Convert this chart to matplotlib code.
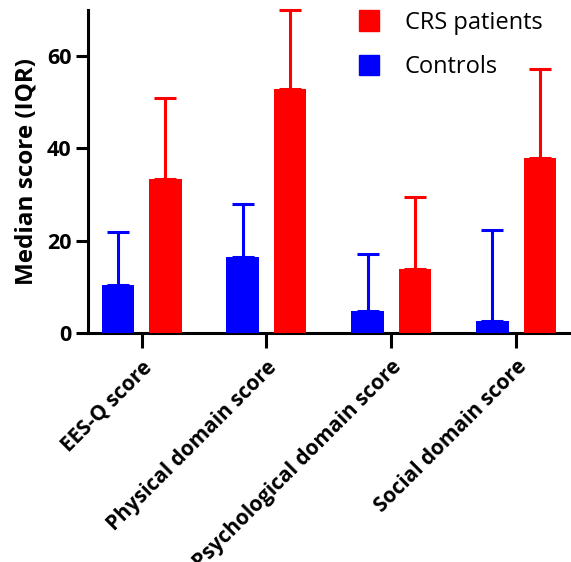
import matplotlib
matplotlib.use("Agg")
from matplotlib import pyplot as plt
from matplotlib.patches import Patch
import numpy as np

categories = ["EES-Q score", "Physical domain score", "Psychological domain score", "Social domain score"]
controls = [10.4, 16.4, 4.8, 2.7]
controls_upper = [21.8, 28.0, 17.2, 22.4]
crs = [33.4, 53.0, 13.8, 38.0]
crs_upper = [51.0, 70.0, 29.5, 57.3]
yticks = [0, 20, 40, 60]

plt.rcParams['font.family'] = ['Open Sans', 'DejaVu Sans']

fig = plt.figure(figsize=(5.71, 5.62), dpi=100)
ax = fig.add_axes([0.154, 0.4075, 0.846, 0.5745])

x = np.arange(len(categories))
off = 0.19
w = 0.26

def draw(xpos, vals, upper, color):
    ax.bar(xpos, vals, width=w, color=color, zorder=3)
    err = [np.zeros(len(vals)), np.array(upper) - np.array(vals)]
    ax.errorbar(xpos, vals, yerr=err, fmt='none', ecolor=color, elinewidth=2.2,
                capsize=8, capthick=2.2, zorder=2, clip_on=False)

draw(x - off, controls, controls_upper, "#0000ff")
draw(x + off, crs, crs_upper, "#ff0000")

ax.set_xlim(-0.43, 3.44)
ax.set_ylim(0, 70)
ax.set_yticks(yticks)
ax.set_xticks(x)
ax.set_xticklabels(categories, rotation=45, ha='right', rotation_mode='anchor',
                   fontsize=15, fontweight='bold')
for lab in ax.get_yticklabels():
    lab.set_fontsize(15.5)
    lab.set_fontweight('bold')
ax.set_ylabel("Median score (IQR)", fontsize=17.5, fontweight='bold', labelpad=6)

for s in ['top', 'right']:
    ax.spines[s].set_visible(False)
for s in ['left', 'bottom']:
    ax.spines[s].set_linewidth(2.2)
ax.tick_params(axis='y', width=2.2, length=9, pad=3)
ax.tick_params(axis='x', width=2.2, length=11, pad=6)

# legend: CRS first, squares only
handles = [Patch(color="#ff0000"), Patch(color="#0000ff")]
ax.legend(handles, ["CRS patients", "Controls"], loc='upper right', frameon=False,
          fontsize=17, handlelength=0.85, handleheight=0.95, handletextpad=1.1,
          labelspacing=0.85, bbox_to_anchor=(0.985, 1.065))

fig.savefig("out.png", dpi=100)
